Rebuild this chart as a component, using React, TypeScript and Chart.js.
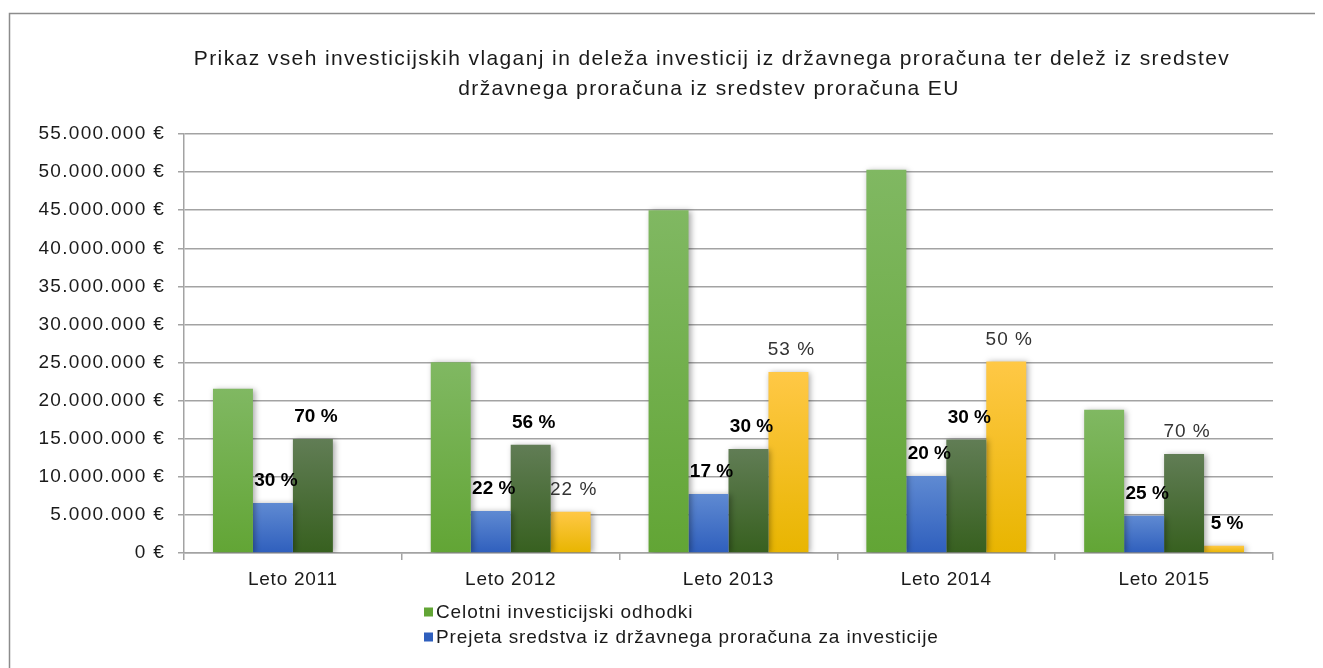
import React, { useEffect, useRef } from "react";
import { Chart, registerables } from "chart.js";

Chart.register(...registerables);

const TITLE_LINES = [
  "Prikaz vseh investicijskih vlaganj in deleža investicij iz državnega proračuna ter delež iz sredstev",
  "državnega proračuna iz sredstev proračuna EU",
];
const CATEGORIES = ["Leto 2011", "Leto 2012", "Leto 2013", "Leto 2014", "Leto 2015"];
const SERIES_NAMES = [
  "Celotni investicijski odhodki",
  "Prejeta sredstva iz državnega proračuna za investicije",
  "Lastna sredstva",
  "Sredstva proračuna EU",
];
const TOTAL_VALUES = [21550000, 25050000, 45000000, 50300000, 18800000];
const STATE_VALUES = [6550000, 5500000, 7750000, 10100000, 4900000];
const OWN_VALUES = [14950000, 14200000, 13650000, 14900000, 13000000];
const EU_VALUES = [null, 5400000, 23750000, 25150000, 950000];
const STATE_LABELS = ["30 %", "22 %", "17 %", "20 %", "25 %"];
const OWN_LABELS = ["70 %", "56 %", "30 %", "30 %", "70 %"];
const EU_LABELS = [null, "22 %", "53 %", "50 %", "5 %"];
const STATE_BOLD = [true, true, true, true, true];
const OWN_BOLD = [true, true, true, true, false];
const EU_BOLD = [false, false, false, false, true];
const Y_MAX = 55000000;
const Y_STEP = 5000000;

const FONT = "'Liberation Sans', Arial, sans-serif";

function fmt(v: number) {
  return String(Math.round(v)).replace(/\B(?=(\d{3})+(?!\d))/g, ".") + " €";
}

function grad(top: string, bottom: string, fallback: string) {
  return (c: any) => {
    const chart = c.chart;
    const { ctx, chartArea, scales } = chart;
    if (!chartArea || c.raw == null) return fallback;
    const y0 = scales.y.getPixelForValue(c.raw);
    const y1 = scales.y.getPixelForValue(0);
    if (!isFinite(y0) || !isFinite(y1) || Math.abs(y1 - y0) < 1) return fallback;
    const g = ctx.createLinearGradient(0, y0, 0, y1);
    g.addColorStop(0, top);
    g.addColorStop(1, bottom);
    return g;
  };
}

const COLORS = [
  ["#80b862", "#62a535"],
  ["#5f8ad2", "#2f5fbd"],
  ["#617d55", "#37601f"],
  ["#ffc846", "#e8b500"],
];

const spacingPlugin = {
  id: "tickSpacing",
  beforeDraw(chart: any) {
    const wrap = (scale: any, sp: string) => {
      if (!scale || scale.__wrapped) return;
      const orig = scale.drawLabels;
      scale.drawLabels = function (...args: any[]) {
        const ctx = this.ctx;
        const prev = ctx.letterSpacing;
        ctx.letterSpacing = sp;
        orig.apply(this, args);
        ctx.letterSpacing = prev || "0px";
      };
      scale.__wrapped = true;
    };
    wrap(chart.scales.y, "1.3px");
    wrap(chart.scales.x, "0.75px");
  },
};

const shadowPlugin = {
  id: "barShadow",
  beforeDatasetsDraw(chart: any) {
    const ctx = chart.ctx;
    ctx.save();
    ctx.shadowColor = "rgba(0,0,0,0.35)";
    ctx.shadowBlur = 6;
    ctx.shadowOffsetX = 2;
    ctx.shadowOffsetY = 1;
  },
  afterDatasetsDraw(chart: any) {
    chart.ctx.restore();
  },
};

const labelPlugin = {
  id: "pctLabels",
  afterDatasetsDraw(chart: any) {
    const ctx = chart.ctx;
    const sets: [number, (string | null)[], boolean[]][] = [
      [1, STATE_LABELS, STATE_BOLD],
      [2, OWN_LABELS, OWN_BOLD],
      [3, EU_LABELS, EU_BOLD],
    ];
    ctx.save();
    ctx.textAlign = "center";
    ctx.textBaseline = "middle";
    for (const [di, labels, bold] of sets) {
      const meta = chart.getDatasetMeta(di);
      meta.data.forEach((el: any, i: number) => {
        const t = labels[i];
        if (!t) return;
        ctx.font = (bold[i] ? "bold " : "") + "19px " + FONT;
        ctx.letterSpacing = bold[i] ? "0px" : "1px";
        ctx.fillStyle = bold[i] ? "#000000" : "#333333";
        ctx.fillText(t, el.x + 3, el.y - 22);
      });
    }
    ctx.restore();
  },
};

const decoPlugin = {
  id: "deco",
  afterDraw(chart: any) {
    const ctx = chart.ctx;
    ctx.save();
    ctx.strokeStyle = "#8c8c8c";
    ctx.lineWidth = 1.5;
    ctx.beginPath();
    ctx.moveTo(1.5, chart.height);
    ctx.lineTo(1.5, 5.5);
    ctx.lineTo(chart.width, 5.5);
    ctx.stroke();
    ctx.fillStyle = "#1a1a1a";
    ctx.font = "21px " + FONT;
    ctx.letterSpacing = "1.4px";
    ctx.textAlign = "center";
    ctx.textBaseline = "middle";
    ctx.fillText(TITLE_LINES[0], 704, 51);
    ctx.fillText(TITLE_LINES[1], 701, 81);
    ctx.textAlign = "left";
    ctx.font = "19px " + FONT;
    ctx.letterSpacing = "0.9px";
    for (let i = 0; i < 2; i++) {
      const y = 604 + i * 25;
      ctx.fillStyle = COLORS[i][1];
      ctx.fillRect(416, y - 4.5, 9, 9);
      ctx.fillStyle = "#1a1a1a";
      ctx.fillText(SERIES_NAMES[i], 428, y + 1);
    }
    ctx.restore();
  },
};

export default function App() {
  const ref = useRef<HTMLCanvasElement | null>(null);
  useEffect(() => {
    if (!ref.current) return;
    const values = [TOTAL_VALUES, STATE_VALUES, OWN_VALUES, EU_VALUES];
    const chart = new Chart(ref.current, {
      type: "bar",
      data: {
        labels: CATEGORIES,
        datasets: values.map((d, i) => ({
          label: SERIES_NAMES[i],
          data: d as any,
          backgroundColor: grad(COLORS[i][0], COLORS[i][1], COLORS[i][1]),
          borderWidth: 0,
          barPercentage: 1,
          categoryPercentage: 0.734,
        })),
      },
      options: {
        animation: false,
        responsive: false,
        maintainAspectRatio: false,
        layout: { padding: { top: 126, right: 50, bottom: 75, left: 0 } },
        plugins: {
          legend: { display: false },
          title: { display: false },
          tooltip: { enabled: false },
        },
        scales: {
          y: {
            min: 0,
            max: Y_MAX,
            afterFit(s: any) {
              s.width = 176;
            },
            ticks: {
              stepSize: Y_STEP,
              padding: 13,
              color: "#1a1a1a",
              font: { family: FONT, size: 19 },
              callback: (v: any) => fmt(Number(v)),
            },
            grid: { color: "#a3a3a3", lineWidth: 1.5, tickLength: 6 },
            border: { color: "#a3a3a3", width: 1.5 },
          },
          x: {
            afterFit(s: any) {
              s.height = 40;
            },
            ticks: {
              padding: 8,
              color: "#1a1a1a",
              font: { family: FONT, size: 19 },
            },
            grid: { color: "#a3a3a3", lineWidth: 1.5, tickLength: 7, drawOnChartArea: false, offset: true },
            border: { color: "#a3a3a3", width: 1.5 },
          },
        },
      },
      plugins: [spacingPlugin, shadowPlugin, labelPlugin, decoPlugin],
    });
    return () => chart.destroy();
  }, []);
  return <canvas ref={ref} width={1315} height={660} style={{ display: "block" }} />;
}
